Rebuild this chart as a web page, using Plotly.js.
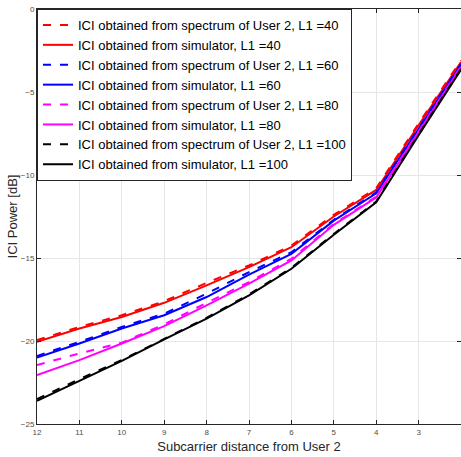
<!DOCTYPE html>
<html>
<head>
<meta charset="utf-8">
<script src="https://cdn.plot.ly/plotly-3.0.1.min.js"></script>
<style>html,body{margin:0;padding:0;background:#fff;}#chart{width:461px;height:457px;}</style>
</head>
<body>
<div id="chart"></div>
<script>
const distance = [12, 11, 10, 9, 8, 7, 6, 5, 4, 3, 2];

const spec40 = [-19.95, -19.15, -18.45, -17.6, -16.5, -15.45, -14.25, -12.4, -10.8, -6.9, -3.1];
const sim40  = [-20.05, -19.25, -18.55, -17.7, -16.65, -15.55, -14.35, -12.5, -10.9, -7.0, -3.2];
const spec60 = [-20.9, -20.05, -19.15, -18.35, -17.15, -15.85, -14.65, -12.7, -11.05, -7.15, -3.3];
const sim60  = [-21.0, -20.15, -19.25, -18.45, -17.35, -16.0, -14.75, -12.75, -11.1, -7.2, -3.35];
const spec80 = [-21.45, -20.75, -20.1, -19.0, -17.7, -16.45, -15.05, -12.95, -11.3, -7.35, -3.45];
const sim80  = [-22.05, -21.15, -20.15, -19.1, -17.85, -16.55, -15.15, -13.0, -11.35, -7.4, -3.5];
const spec100 = [-23.5, -22.3, -21.15, -19.85, -18.6, -17.2, -15.6, -13.55, -11.6, -7.55, -3.6];
const sim100  = [-23.6, -22.4, -21.2, -19.9, -18.65, -17.25, -15.65, -13.6, -11.65, -7.6, -3.65];

const names = [
  'ICI obtained from spectrum of User 2, L1 =40',
  'ICI obtained from simulator, L1 =40',
  'ICI obtained from spectrum of User 2, L1 =60',
  'ICI obtained from simulator, L1 =60',
  'ICI obtained from spectrum of User 2, L1 =80',
  'ICI obtained from simulator, L1 =80',
  'ICI obtained from spectrum of User 2, L1 =100',
  'ICI obtained from simulator, L1 =100'
];
const series = [spec40, sim40, spec60, sim60, spec80, sim80, spec100, sim100];
const colors = ['#ff0000', '#ff0000', '#0000ff', '#0000ff', '#ff00ff', '#ff00ff', '#000000', '#000000'];
const dashes = ['8px,9px', 'solid', '8px,9px', 'solid', '8px,9px', 'solid', '8px,9px', 'solid'];

const traces = series.map((y, i) => ({
  x: distance,
  y: y,
  type: 'scatter',
  mode: 'lines',
  name: names[i],
  line: {color: colors[i], width: 2, dash: dashes[i]}
}));

const tickFont = {family: 'Liberation Sans, Arial, sans-serif', size: 8, color: '#4d4d4d'};
const layout = {
  width: 461,
  height: 457,
  margin: {l: 37, r: 0, t: 9, b: 33},
  paper_bgcolor: '#ffffff',
  plot_bgcolor: '#ffffff',
  font: {family: 'Liberation Sans, Arial, sans-serif', color: '#262626'},
  showlegend: true,
  legend: {
    x: 0, y: 1, xanchor: 'left', yanchor: 'top',
    bgcolor: '#ffffff', bordercolor: '#262626', borderwidth: 1,
    font: {family: 'Liberation Sans, Arial, sans-serif', size: 13, color: '#000000'},
    tracegroupgap: 0
  },
  xaxis: {
    range: [12, 2],
    tickvals: [12, 11, 10, 9, 8, 7, 6, 5, 4, 3, 2],
    ticks: 'inside', ticklen: 4, tickcolor: '#262626',
    showline: true, linecolor: '#262626', linewidth: 1, mirror: 'ticks',
    showgrid: true, gridcolor: '#e6e6e6', gridwidth: 1,
    zeroline: false,
    tickfont: tickFont,
    title: {text: 'Subcarrier distance from User 2', font: {size: 13, color: '#262626'}, standoff: 6}
  },
  yaxis: {
    range: [-25, 0],
    tickvals: [-25, -20, -15, -10, -5, 0],
    ticks: 'inside', ticklen: 4, tickcolor: '#262626',
    showline: true, linecolor: '#262626', linewidth: 1, mirror: 'ticks',
    showgrid: true, gridcolor: '#e6e6e6', gridwidth: 1,
    zeroline: false,
    tickfont: tickFont,
    title: {text: 'ICI Power [dB]', font: {size: 13, color: '#262626'}, standoff: 0}
  }
};

Plotly.newPlot('chart', traces, layout, {displayModeBar: false, staticPlot: true});
</script>
</body>
</html>
